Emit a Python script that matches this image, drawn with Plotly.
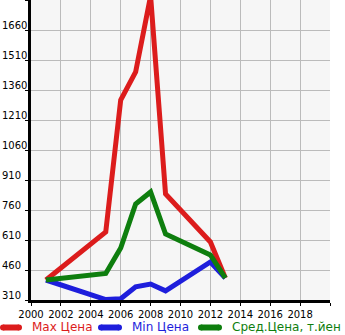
import plotly.graph_objects as go

# Price history by model year
years = [2001, 2005, 2006, 2007, 2008, 2009, 2012, 2013]
max_price = [410, 650, 1310, 1450, 1830, 840, 600, 420]
min_price = [410, 312, 316, 376, 390, 356, 500, 420]
avg_price = [410, 443, 570, 790, 850, 640, 535, 420]

series_names = ["Max Цена", "Min Цена", "Сред.Цена, т.йен"]
series_colors = ["#dc1c1c", "#1e1edc", "#0e7e0e"]

x_ticks = [2000, 2002, 2004, 2006, 2008, 2010, 2012, 2014, 2016, 2018, 2020]
y_ticks = [310, 460, 610, 760, 910, 1060, 1210, 1360, 1510, 1660, 1810]

W, H = 345, 335
ML, MR, MT, MB = 31, 15, 0, 35
PW, PH = W - ML - MR, H - MT - MB


def px_x(px):
    return (px - ML) / PW


def px_y(py):
    return (H - MB - py) / PH


fig = go.Figure()
for name, vals, col in zip(series_names, [max_price, min_price, avg_price], series_colors):
    fig.add_trace(go.Scatter(
        x=years, y=vals, mode="lines", name=name,
        line=dict(color=col, width=5), showlegend=False,
    ))

font = "DejaVu Sans"

# y tick labels, left aligned at the page edge, sitting on their grid lines
annotations = []
for v in y_ticks[:-1]:
    annotations.append(dict(
        x=px_x(0), xref="paper", y=v, yref="y", text=str(v),
        showarrow=False, xanchor="left", yanchor="bottom", yshift=-3,
        font=dict(family=font, size=10, color="#000000"),
    ))

# legend row along the bottom
shapes = []
legend_items = [(0, 22, 30), (98, 122, 130), (198, 222, 230)]
ly = 327.5
for (x0, x1, tx), name, col in zip(legend_items, series_names, series_colors):
    shapes.append(dict(type="line", xref="paper", yref="paper",
                       x0=px_x(x0 + 3), x1=px_x(x1 - 3), y0=px_y(ly), y1=px_y(ly),
                       line=dict(color=col, width=6)))
    for cx in (x0 + 3, x1 - 3):
        shapes.append(dict(type="circle", xref="paper", yref="paper",
                           x0=px_x(cx - 3), x1=px_x(cx + 3),
                           y0=px_y(ly + 3), y1=px_y(ly - 3),
                           fillcolor=col, line=dict(width=0)))
    annotations.append(dict(
        x=px_x(tx), xref="paper", y=px_y(ly), yref="paper", text=name,
        showarrow=False, xanchor="left", yanchor="middle",
        font=dict(family=font, size=12, color=col),
    ))

fig.update_layout(
    width=W, height=H,
    margin=dict(l=ML, r=MR, t=MT, b=MB, pad=0),
    paper_bgcolor="#ffffff", plot_bgcolor="#f6f6f6",
    showlegend=False,
    annotations=annotations, shapes=shapes,
    font=dict(family=font, size=10, color="#000000"),
)
fig.update_xaxes(
    range=[2000, 2020], tickvals=x_ticks,
    ticktext=[str(t) for t in x_ticks[:-1]] + [""],
    showgrid=True, gridcolor="#bbbbbb", gridwidth=1,
    showline=True, linecolor="#000000", linewidth=3,
    ticks="outside", ticklen=3, tickcolor="#000000",
    tickfont=dict(family=font, size=10), zeroline=False,
)
fig.update_yaxes(
    range=[310, 1810], tickvals=y_ticks, showticklabels=False,
    showgrid=True, gridcolor="#bbbbbb", gridwidth=1,
    showline=True, linecolor="#000000", linewidth=3,
    ticks="outside", ticklen=3, tickcolor="#000000", zeroline=False,
)

fig.write_html("out.html")
